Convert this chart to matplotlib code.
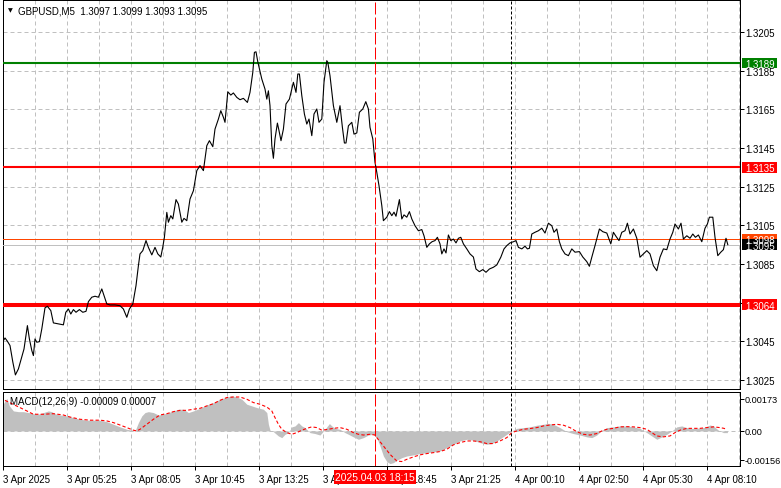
import matplotlib
matplotlib.use('Agg')
import matplotlib.pyplot as plt
from matplotlib.transforms import blended_transform_factory
from matplotlib.patches import Rectangle
import numpy as np

plt.rcParams['font.family'] = ['Liberation Sans', 'DejaVu Sans']

# ---------------- data ----------------
symbol_title = "GBPUSD,M5  1.3097 1.3099 1.3093 1.3095"
macd_title = "MACD(12,26,9) -0.00009 0.00007"
cursor_label = "2025.04.03 18:15"

price_bar = [0, 1.0, 2.2, 3.5, 4.9, 6.2, 7.7, 9.4, 10.5, 12.2, 13.2, 14.4, 15.2, 16, 16.9, 18.2, 19.4, 21, 22.2, 23.9,
             25.2, 27.7, 30.2, 31.4, 32.7, 33.9, 35.2, 36.5, 38.2, 39.9, 41.5, 42.7, 44.4, 46, 47.7, 49.4, 50.5, 51.9,
             53.5, 56, 58.5, 60.2, 61.9, 63.2, 64.9, 66.5, 67.7, 68.5, 69.9, 71.5, 72.7, 74.4, 76, 77.4, 78.9, 79.9,
             80.7, 81.9, 82.7, 83.9, 84.9, 86.5, 87.7, 89.4, 90.5, 91.9, 93.5, 95.2, 96.9, 98.5, 100.2, 101.9, 103.2,
             104.9, 106, 107.7, 108.9, 110.2, 111, 112.4, 113.9, 115.2, 116.9, 118.5, 120.2, 122.2, 123.5, 124.9,
             125.7, 126.5, 127.4, 129.4, 131, 131.9, 132.7, 133.5, 134.4, 135.2, 136, 137.2, 138, 139, 140.2, 141.5,
             143.2, 145.2, 146.5, 147.4, 148.2, 149.4, 150.7, 151.9, 153, 154.4, 155.5, 156.9, 158, 159.4, 160.5,
             161.9, 162.4, 163.5, 165.2, 166.9, 168.5, 169.7, 170.7, 171.5, 172.7, 174.4, 175.5, 176.9, 178.2, 179.9,
             181.4, 182.7, 183.5, 184.9, 186, 186.9, 188, 189.4, 190.2, 191.9, 193.2, 194.4, 195.5, 196.5, 198.2,
             199.4, 200.5, 201.9, 203.2, 204.4, 206, 207.7, 209.4, 210.5, 211.9, 213.2, 214.5, 216, 217.2, 218.5,
             219.4, 220.5, 221.5, 222.7, 223.9, 225.2, 226.5, 227.7, 228.9, 230.2, 231.9, 233.5, 235.2, 236.5, 238.2,
             239.9, 241.5, 243.2, 245.2, 246.9, 248.9, 250.5, 251.9, 253.5, 255.2, 256.5, 257.7, 259.4, 261, 262.2,
             263.2, 264.4, 266, 267.7, 269.4, 271, 272.7, 274.4, 275.5, 276.9, 278.2, 279.4, 281, 282.7, 284.4, 286,
             288.2, 289.9, 291.9, 293.2, 294.4, 296, 298.2, 299.9, 301.9, 303.9, 305.2, 306.5, 308, 309.4, 311, 312.2,
             313.5, 315.2, 316.9, 318.5, 320.2, 321.9, 323.5, 325.2, 326.9, 328.5, 330.2, 331.9, 333.5, 334.9, 336,
             337.7, 339, 340.2, 341.9, 343.5, 344.9, 346.2, 347.7, 349.4, 351, 352.2, 353.2, 354.9, 356, 357.4, 358.9,
             360.2, 361.5, 362.4]
price_close = [1.30450, 1.30467, 1.30450, 1.30428, 1.30343, 1.30276, 1.30307, 1.30369, 1.30410, 1.30531, 1.30462,
               1.30402, 1.30376, 1.30462, 1.30445, 1.30448, 1.30514, 1.30623, 1.30631, 1.30609, 1.30545, 1.30540,
               1.30535, 1.30600, 1.30617, 1.30591, 1.30614, 1.30600, 1.30614, 1.30600, 1.30605, 1.30655, 1.30678,
               1.30683, 1.30678, 1.30721, 1.30686, 1.30643, 1.30638, 1.30638, 1.30634, 1.30617, 1.30574, 1.30617,
               1.30643, 1.30738, 1.30841, 1.30902, 1.30919, 1.30971, 1.30936, 1.30897, 1.30936, 1.30902, 1.30886,
               1.30938, 1.30988, 1.31117, 1.31066, 1.31100, 1.31083, 1.31183, 1.31160, 1.31066, 1.31086, 1.31074,
               1.31186, 1.31229, 1.31333, 1.31359, 1.31333, 1.31462, 1.31488, 1.31457, 1.31548, 1.31600, 1.31643,
               1.31609, 1.31583, 1.31741, 1.31724, 1.31735, 1.31712, 1.31700, 1.31707, 1.31686, 1.31738, 1.31842,
               1.31945, 1.31948, 1.31896, 1.31807, 1.31755, 1.31703, 1.31746, 1.31669, 1.31462, 1.31397, 1.31497,
               1.31579, 1.31540, 1.31488, 1.31548, 1.31678, 1.31703, 1.31790, 1.31738, 1.31833, 1.31833, 1.31721,
               1.31626, 1.31574, 1.31600, 1.31514, 1.31626, 1.31652, 1.31583, 1.31600, 1.31790, 1.31902, 1.31893,
               1.31824, 1.31669, 1.31583, 1.31669, 1.31557, 1.31476, 1.31476, 1.31565, 1.31583, 1.31522, 1.31528,
               1.31635, 1.31652, 1.31690, 1.31652, 1.31557, 1.31497, 1.31376, 1.31324, 1.31255, 1.31152, 1.31074,
               1.31092, 1.31121, 1.31100, 1.31118, 1.31097, 1.31183, 1.31083, 1.31104, 1.31092, 1.31121, 1.31083,
               1.31048, 1.31022, 1.31028, 1.30996, 1.30936, 1.30954, 1.30965, 1.30971, 1.30988, 1.30954, 1.30902,
               1.30928, 1.30907, 1.31000, 1.30971, 1.30979, 1.30959, 1.30983, 1.30988, 1.30954, 1.30928, 1.30902,
               1.30886, 1.30824, 1.30810, 1.30821, 1.30807, 1.30824, 1.30833, 1.30845, 1.30885, 1.30928, 1.30945,
               1.30959, 1.30965, 1.30971, 1.30936, 1.30928, 1.30942, 1.30928, 1.30931, 1.31005, 1.31014, 1.31022,
               1.31035, 1.31010, 1.31061, 1.31048, 1.31014, 1.31031, 1.30965, 1.30928, 1.30902, 1.30893, 1.30928,
               1.30911, 1.30914, 1.30886, 1.30862, 1.30838, 1.30885, 1.30945, 1.31031, 1.31017, 1.31010, 1.30954,
               1.31014, 1.30993, 1.30971, 1.31014, 1.31022, 1.31061, 1.31005, 1.31031, 1.30983, 1.30885, 1.30902,
               1.30919, 1.30902, 1.30841, 1.30815, 1.30885, 1.30928, 1.30924, 1.30979, 1.31014, 1.31057, 1.31031,
               1.31061, 1.30979, 1.30996, 1.30983, 1.31005, 1.30988, 1.31000, 1.30965, 1.31035, 1.31057, 1.31092,
               1.31092, 1.30988, 1.30893, 1.30911, 1.30924, 1.30983, 1.30950]

macd_bar = [0, 1.9, 3.2, 5.2, 7.7, 10.2, 12.7, 15.2, 17.7, 20.2, 22.7, 24.4, 26, 28.5, 31.9, 35.2, 38.5, 41.9, 45.2,
            48.5, 51.9, 55.2, 58.5, 61.9, 64.4, 66, 67.7, 69.4, 71, 72.7, 75.2, 77.7, 80.2, 82.7, 85.2, 87.7, 90.2,
            92.7, 95.2, 98.5, 101.9, 105.2, 108.5, 111.9, 114.4, 116.9, 119.4, 121.9, 124.4, 126.9, 130.2, 131.9,
            132.7, 133.5, 135.2, 137.7, 139.4, 141, 142.7, 144.4, 146, 147.7, 149.4, 151, 153.5, 156, 158.5, 161,
            163.2, 164.4, 166, 168.5, 171, 172.7, 175.2, 177.7, 180.2, 182.7, 185.2, 186.9, 188.5, 190.2, 191.9,
            193.5, 195.2, 196.9, 199.4, 201.9, 205.2, 208.5, 211.9, 215.2, 218.5, 221.9, 225.2, 228.5, 231.9, 235.2,
            238.5, 241.9, 244.4, 246.9, 249.4, 251.9, 254.4, 256.9, 260.2, 263.5, 266.9, 270.2, 272.7, 275.2, 278.5,
            281.9, 285.2, 288.5, 291.9, 294.4, 296.9, 299.4, 301.9, 305.2, 308.5, 311.9, 315.2, 318.5, 321.9, 324.4,
            326.9, 329.4, 331.9, 334.4, 336.9, 339.4, 341.9, 344.4, 346.9, 350.2, 353.5, 355.2, 357.7, 360.2, 362.2]
macd_hist = [0.00144, 0.00176, 0.00135, 0.00108, 0.00104, 0.00104, 0.00099, 0.00093, 0.00090, 0.00099, 0.00108,
             0.00104, 0.00093, 0.00086, 0.00081, 0.00072, 0.00063, 0.00058, 0.00058, 0.00058, 0.00050, 0.00036,
             0.00022, 0.00009, 0.00004, 0.00000, 0.00045, 0.00081, 0.00099, 0.00104, 0.00099, 0.00086, 0.00090,
             0.00099, 0.00108, 0.00117, 0.00117, 0.00099, 0.00108, 0.00122, 0.00140, 0.00153, 0.00171, 0.00183,
             0.00189, 0.00183, 0.00171, 0.00144, 0.00135, 0.00126, 0.00117, 0.00099, 0.00036, 0.00004, -0.00004,
             -0.00027, -0.00036, -0.00018, -0.00009, 0.00022, 0.00027, 0.00045, 0.00027, 0.00018, -0.00009, -0.00014,
             -0.00022, 0.00009, 0.00040, 0.00027, 0.00014, 0.00009, -0.00009, -0.00018, -0.00032, -0.00045, -0.00036,
             -0.00022, -0.00018, -0.00036, -0.00081, -0.00135, -0.00165, -0.00176, -0.00171, -0.00158, -0.00144,
             -0.00135, -0.00129, -0.00122, -0.00117, -0.00113, -0.00108, -0.00090, -0.00072, -0.00054, -0.00045,
             -0.00050, -0.00063, -0.00072, -0.00068, -0.00054, -0.00036, -0.00018, 0.00000, 0.00014, 0.00018,
             0.00022, 0.00031, 0.00036, 0.00041, 0.00036, 0.00018, -0.00004, -0.00014, -0.00022, -0.00032, -0.00036,
             -0.00022, 0.00004, 0.00018, 0.00022, 0.00027, 0.00027, 0.00022, 0.00014, -0.00009, -0.00027, -0.00045,
             -0.00032, -0.00018, 0.00000, 0.00022, 0.00027, 0.00018, 0.00014, 0.00014, 0.00018, 0.00032, 0.00027,
             0.00004, -0.00009, -0.00009]

signal_bar = [1, 11.9, 15.2, 20.2, 25.2, 30.2, 33.5, 38.5, 43.5, 48.5, 51.9, 55.2, 58.5, 61.9, 65.2, 66.9, 68.5, 71.9,
              75.2, 78.5, 81.9, 85.2, 88.5, 91.9, 95.2, 98.5, 101.9, 105.2, 108.5, 111.9, 115.2, 118.5, 121.9, 125.2,
              128.5, 131.9, 134.4, 136, 137.7, 139.4, 141.9, 144.4, 146.9, 149.4, 151.9, 154.4, 156.9, 159.4, 162.7,
              165.2, 168.5, 171.9, 175.2, 177.7, 180.2, 183.5, 186, 186.9, 190.2, 193.5, 196.9, 199.4, 201.9, 205.2,
              208.5, 211.9, 215.2, 218.5, 221.9, 225.2, 228.5, 231.9, 235.2, 238.5, 241.9, 245.2, 248.5, 251.9, 254.4,
              256.9, 260.2, 263.5, 266.9, 270.2, 273.5, 276.9, 280.2, 283.5, 286.9, 290.2, 293.5, 296.9, 299.4, 301.9,
              305.2, 308.5, 311.9, 315.2, 318.5, 321.9, 324.4, 326.9, 330.2, 333.5, 336, 338.5, 341.9, 345.2, 348.5,
              351.9, 355.2, 358.5, 360.5, 362]
signal_val = [0.00165, 0.00108, 0.00090, 0.00090, 0.00093, 0.00086, 0.00075, 0.00063, 0.00058, 0.00058, 0.00054,
              0.00045, 0.00032, 0.00018, 0.00004, 0.00000, 0.00009, 0.00036, 0.00063, 0.00086, 0.00093, 0.00104,
              0.00111, 0.00111, 0.00117, 0.00122, 0.00135, 0.00147, 0.00165, 0.00180, 0.00183, 0.00183, 0.00171,
              0.00153, 0.00144, 0.00129, 0.00108, 0.00072, 0.00036, 0.00009, -0.00009, -0.00018, -0.00009, 0.00004,
              0.00014, 0.00022, 0.00018, 0.00004, 0.00009, 0.00014, 0.00018, 0.00009, -0.00009, -0.00018, -0.00022,
              -0.00018, -0.00022, -0.00036, -0.00081, -0.00126, -0.00162, -0.00165, -0.00153, -0.00140, -0.00129,
              -0.00122, -0.00117, -0.00111, -0.00099, -0.00075, -0.00063, -0.00054, -0.00054, -0.00058, -0.00068,
              -0.00068, -0.00054, -0.00036, -0.00009, 0.00000, 0.00009, 0.00013, 0.00018, 0.00027, 0.00032, 0.00036,
              0.00031, 0.00018, -0.00004, -0.00018, -0.00022, -0.00014, 0.00000, 0.00009, 0.00014, 0.00022, 0.00023,
              0.00022, 0.00018, 0.00009, -0.00009, -0.00027, -0.00032, -0.00027, -0.00009, 0.00004, 0.00014, 0.00014,
              0.00014, 0.00018, 0.00022, 0.00018, 0.00014, 0.00007]

price_ticks = [1.3025, 1.3045, 1.3065, 1.3085, 1.3105, 1.3125, 1.3145, 1.3165, 1.3185, 1.3205]
price_tick_labels = ['1.3025', '1.3045', '', '1.3085', '1.3105', '1.3125', '1.3145', '1.3165', '1.3185', '1.3205']
macd_ticks = [0.00173, 0.0, -0.00156]
macd_tick_labels = ['0.00173', '0.00', '-0.00156']
time_tick_bars = [0, 32, 64, 96, 128, 160, 192, 224, 256, 288, 320, 352]
time_tick_labels = ['3 Apr 2025', '3 Apr 05:25', '3 Apr 08:05', '3 Apr 10:45', '3 Apr 13:25', '3 Apr 16:05',
                    '3 Apr 18:45', '3 Apr 21:25', '4 Apr 00:10', '4 Apr 02:50', '4 Apr 05:30', '4 Apr 08:10']

level_prices = [1.3189, 1.3135, 1.3064]
level_labels = ['1.3189', '1.3135', '1.3064']
ask_price, ask_label = 1.3098, '1.3098'
bid_price, bid_label = 1.3095, '1.3095'
cursor_bar = 186
day_sep_bar = 254

# ---------------- layout ----------------
W, H = 781, 489
fig = plt.figure(figsize=(W / 100, H / 100), dpi=100, facecolor='white')
left_px, right_px = 2.5, 740
ax = fig.add_axes([left_px / W, 1 - 390 / H, (right_px - left_px) / W, 389 / H])
ax2 = fig.add_axes([left_px / W, 1 - 467 / H, (right_px - left_px) / W, 74 / H])

XL = (-0.25, 368.5)
main_ylim = (1.30203, 1.32216)
macd_ylim = (-0.00189, 0.00210)
GRID = '#c0c0c0'
LW1 = 0.72  # ~1 px
FS = 7.0

for a in (ax, ax2):
    a.set_xlim(*XL)
    for s in a.spines.values():
        s.set_linewidth(LW1)
        s.set_color('black')
    for gb in np.arange(0, 369, 16):
        a.axvline(gb, color=GRID, lw=LW1, dashes=(4, 3), zorder=0)

ax.set_ylim(*main_ylim)
ax2.set_ylim(*macd_ylim)

for p in price_ticks:
    ax.axhline(p, color=GRID, lw=LW1, dashes=(4, 3), zorder=0)
ax2.axhline(0, color=GRID, lw=LW1, dashes=(4, 3), zorder=0)

for a in (ax, ax2):
    a.yaxis.tick_right()
ax.tick_params(axis='y', direction='out', length=3, width=LW1, pad=0.8, labelsize=FS, colors='black')
ax2.tick_params(axis='y', direction='out', length=3, width=LW1, pad=0.5, labelsize=6.6, colors='black')
ax.set_yticks(price_ticks)
ax.set_yticklabels(price_tick_labels)
ax2.set_yticks(macd_ticks)
ax2.set_yticklabels(macd_tick_labels)
ax.set_xticks([])
ax2.set_xticks(time_tick_bars)
ax2.set_xticklabels(time_tick_labels)
ax2.tick_params(axis='x', direction='out', length=3, width=LW1, pad=3, labelsize=FS)
for lab in ax2.get_xticklabels():
    lab.set_horizontalalignment('left')

# level lines
ax.axhline(level_prices[0], color='#008000', lw=1.5, zorder=3)
ax.axhline(level_prices[1], color='#ff0000', lw=1.5, zorder=3)
ax.axhline(level_prices[2], color='#ff0000', lw=2.9, zorder=3)
ax.axhline(ask_price, color='#ff4500', lw=LW1, zorder=3)
ax.axhline(bid_price, color='#c0c0c0', lw=LW1, zorder=3)

# price line
ax.plot(price_bar, price_close, color='black', lw=0.8, zorder=4)

# cursor and day separator
for a in (ax, ax2):
    a.axvline(cursor_bar, color='#ff0000', lw=LW1, dashes=(12, 3), zorder=5)
    a.axvline(day_sep_bar, color='black', lw=LW1, dashes=(3, 2), zorder=5)

# MACD
ax2.fill_between(macd_bar, macd_hist, 0, color='#c0c0c0', lw=0, zorder=2)
ax2.plot(signal_bar, signal_val, color='#ff0000', lw=0.8, dashes=(3, 2), zorder=3)


def price_box(a, price, text, fc, ylim, ax_h_px, tc='white'):
    tr = blended_transform_factory(a.transAxes, a.transData)
    ax_w_px = right_px - left_px
    h = 10.5 * (ylim[1] - ylim[0]) / ax_h_px
    a.add_patch(Rectangle((1 + 2 / ax_w_px, price - h / 2), 35 / ax_w_px, h, transform=tr,
                          facecolor=fc, edgecolor='none', clip_on=False, zorder=10))
    a.text(1 + 5.0 / ax_w_px, price, text, transform=tr, ha='left', va='center_baseline',
           fontsize=FS, color=tc, zorder=11, clip_on=False)


price_box(ax, level_prices[0], level_labels[0], '#008000', main_ylim, 389)
price_box(ax, level_prices[1], level_labels[1], '#ff0000', main_ylim, 389)
price_box(ax, level_prices[2], level_labels[2], '#ff0000', main_ylim, 389)
price_box(ax, ask_price, ask_label, '#ff4500', main_ylim, 389)
price_box(ax, bid_price, bid_label, '#000000', main_ylim, 389)

# titles
fig.text(7.5 / W, 1 - 11 / H, '▼', fontsize=4.5, family=['DejaVu Sans'], va='center', ha='left')
fig.text(18 / W, 1 - 11 / H, symbol_title, fontsize=FS, va='center', ha='left')
ax2.text(7 / (right_px - left_px), 1 - 9 / 74, macd_title, transform=ax2.transAxes,
         fontsize=FS, va='center', ha='left', zorder=12)

# cursor time label
ax2.annotate(cursor_label, xy=(cursor_bar, 0), xycoords=('data', 'axes fraction'),
             xytext=(0, -11), textcoords='offset pixels', ha='center', va='center',
             fontsize=7.4, color='white', zorder=20, annotation_clip=False,
             bbox=dict(boxstyle='square,pad=0.15', fc='#ff0000', ec='none'))

fig.savefig('out.png', dpi=100, facecolor='white')
